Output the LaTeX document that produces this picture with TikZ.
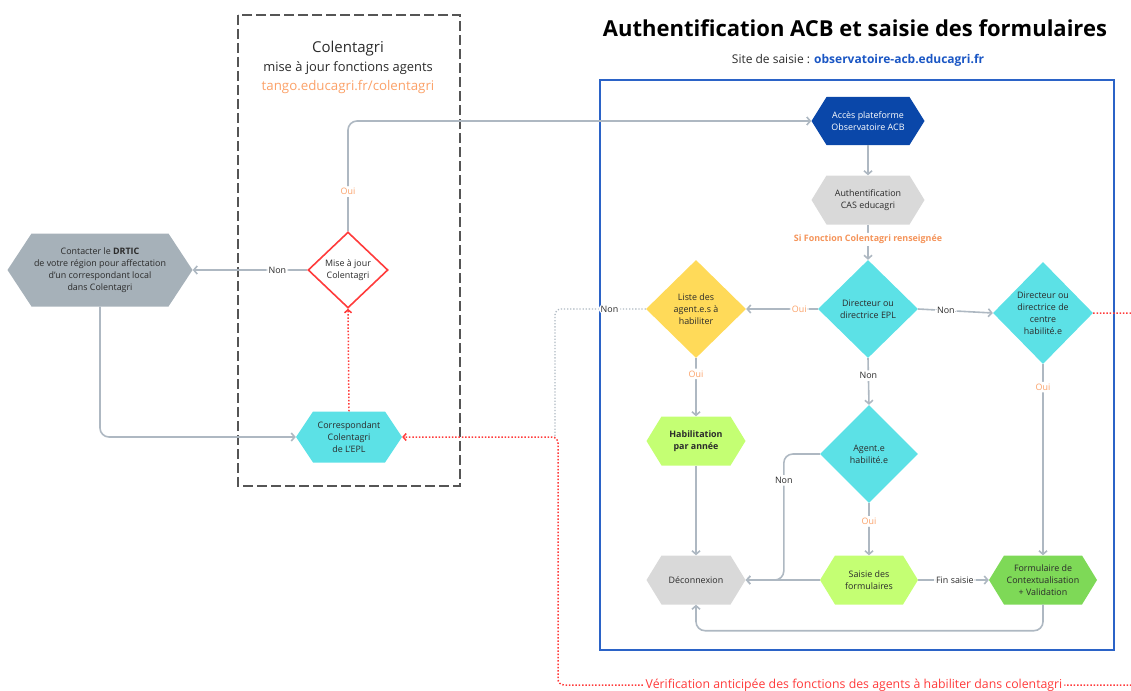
\documentclass[tikz,border=0pt]{standalone}
\usepackage{fontspec}
\setmainfont{Open Sans}
\usetikzlibrary{arrows.meta,shapes.geometric,calc}
\definecolor{lineg}{HTML}{AEB8C2}
\definecolor{orangec}{HTML}{FBA168}
\definecolor{orangeb}{HTML}{F5945A}
\definecolor{redc}{HTML}{FF3B3B}
\definecolor{darkblue}{HTML}{0A47A9}
\definecolor{boxblue}{HTML}{2B63C7}
\definecolor{cyanc}{HTML}{5CE1E6}
\definecolor{yellowc}{HTML}{FFDA59}
\definecolor{limec}{HTML}{C4FF73}
\definecolor{greenc}{HTML}{7ED957}
\definecolor{lgray}{HTML}{D9D9D9}
\definecolor{mgray}{HTML}{A6B1B9}
\definecolor{dashg}{HTML}{555555}
\definecolor{linkblue}{HTML}{1A56C4}
\definecolor{txtc}{HTML}{2B2B2B}
\begin{document}
\begin{tikzpicture}[x=1pt,y=-1pt,
  txt/.style={font=\fontsize{8.9}{12}\selectfont, align=center, text=txtc},
  hex/.style 2 args={shape=rectangle, inner sep=0pt, txt,
    path picture={\fill[#1] (path picture bounding box.west) -- ([xshift=#2pt]path picture bounding box.north west) -- ([xshift=-#2pt]path picture bounding box.north east) -- (path picture bounding box.east) -- ([xshift=-#2pt]path picture bounding box.south east) -- ([xshift=#2pt]path picture bounding box.south west) -- cycle;}},
  dia/.style={shape=diamond, inner sep=0pt, fill=#1, txt},
  conn/.style={draw=lineg, line width=1.6pt, rounded corners=9pt, -{Straight Barb[length=3.5pt,width=8pt]}},
  reddot/.style={draw=redc, line width=1.5pt, dash pattern=on 1.5pt off 1.8pt, rounded corners=6pt},
  graydot/.style={draw=lineg, line width=1.3pt, dash pattern=on 1.3pt off 1.8pt, rounded corners=6pt},
  lbl/.style={fill=white, inner sep=2pt, font=\fontsize{8.9}{10}\selectfont, text=txtc},
  oui/.style={lbl, text=orangec}]
\useasboundingbox (0,0) rectangle (1131,690);
\clip (0,0) rectangle (1131,690);

% frames
\draw[dashg, line width=2pt, dash pattern=on 10pt off 4pt] (238,15) rectangle (460,486);
\draw[boxblue, line width=2.2pt] (600,80) rectangle (1114,650);

% titles
\node[font=\fontsize{15}{17}\selectfont, text=txtc] (colt) at (348,49) {Colentagri};
\node[font=\fontsize{12.9}{14}\selectfont, text=txtc] (colst) at (348,68) {mise à jour fonctions agents};
\node[font=\fontsize{13.3}{15}\selectfont, text=orangec] (colurl) at (348,87) {tango.educagri.fr/colentagri};
\node[font=\bfseries\fontsize{22}{25}\selectfont, text=black] (title) at (855,28) {Authentification ACB et saisie des formulaires};
\node[font=\fontsize{12}{14}\selectfont, text=txtc] (site) at (858,60) {Site de saisie : \textcolor{linkblue}{\textbf{observatoire-acb.educagri.fr}}};

% nodes
\node[hex={darkblue}{15}, minimum width=113pt, minimum height=48pt, text=white] (acces) at (868,121) {Accès plateforme\\Observatoire ACB};
\node[hex={lgray}{15}, minimum width=113pt, minimum height=49pt] (auth) at (868,200) {Authentification\\CAS educagri};
\node[dia=cyanc, minimum width=100pt, minimum height=98pt] (dir) at (868,309) {Directeur ou\\directrice EPL};
\node[dia=yellowc, minimum width=100pt, minimum height=98pt] (liste) at (696,309) {Liste des\\agent.e.s à\\habiliter};
\node[dia=cyanc, minimum width=100pt, minimum height=102pt] (centre) at (1043,313) {Directeur ou\\directrice de\\centre\\habilité.e};
\node[dia=cyanc, minimum width=98pt, minimum height=98pt] (agent) at (869,454) {Agent.e\\habilité.e};
\node[hex={limec}{15}, minimum width=99pt, minimum height=49pt] (habil) at (696,441) {\textbf{Habilitation}\\\textbf{par année}};
\node[hex={lgray}{15}, minimum width=99pt, minimum height=49pt] (deco) at (696,580) {Déconnexion};
\node[hex={limec}{15}, minimum width=98pt, minimum height=49pt] (saisie) at (869,580) {Saisie des\\formulaires};
\node[hex={greenc}{15}, minimum width=108pt, minimum height=49pt] (form) at (1043,580) {Formulaire de\\Contextualisation\\+ Validation};
\node[hex={mgray}{24}, minimum width=185pt, minimum height=73pt] (contact) at (100,270) {Contacter le \textbf{DRTIC}\\de votre région pour affectation\\d'un correspondant local\\dans Colentagri};
\node[shape=diamond, draw=redc, line width=1.6pt, fill=white, inner sep=0pt, txt, minimum width=80pt, minimum height=76pt] (mise) at (348,270) {Mise à jour\\Colentagri};
\node[hex={cyanc}{17}, minimum width=106pt, minimum height=51pt] (corr) at (349,437) {Correspondant\\Colentagri\\de L'EPL};

% connectors
\draw[conn] (mise.north) -- node[oui, pos=0.36]{Oui} (mise.north |- acces.west) -- (acces.west);
\draw[conn] (mise.west) -- node[lbl, pos=0.26]{Non} (contact.east);
\draw[conn] (contact.south) |- (corr.west);
\draw[reddot, -{Straight Barb[length=3pt,width=7pt]}] (corr.north) -- (mise.south);
\draw[conn] (acces.south) -- (auth.north);
\draw[conn] (auth.south) -- node[pos=0.42, fill=white, inner sep=2pt, font=\bfseries\fontsize{8.9}{10}\selectfont, text=orangeb]{Si Fonction Colentagri renseignée} (dir.north);
\draw[conn] (dir.west) -- node[oui, pos=0.26]{Oui} (liste.east);
\draw[conn] (dir.east) -- node[lbl, pos=0.37]{Non} (centre.west);
\draw[conn] (dir.south) -- node[lbl, pos=0.375]{Non} (agent.north);
\draw[conn] (liste.south) -- node[oui, pos=0.27]{Oui} (habil.north);
\draw[conn] (habil.south) -- (deco.north);
\draw[conn] (agent.west) -- ([xshift=-36pt]agent.west) -- node[lbl, pos=0.21]{Non} ([xshift=-36pt]agent.west |- deco.east) -- (deco.east);
\draw[conn] (agent.south) -- node[oui, pos=0.35]{Oui} (saisie.north);
\draw[conn] (saisie.west) -- (deco.east);
\draw[conn] (saisie.east) -- node[lbl, pos=0.52]{Fin saisie} (form.west);
\draw[conn] (centre.south) -- node[oui, pos=0.12]{Oui} (form.north);
\draw[conn] (form.south) -- ++(0,26) -| (deco.south);

% dotted loops
\coordinate (j) at (555,437);
\draw[graydot] (liste.west) -- node[lbl, pos=0.4, fill=white]{Non} (liste.west -| j) -- (j);
\draw[reddot, -{Straight Barb[length=3pt,width=7pt]}] (centre.east) -- (1150,313) -- (1150,685) -- node[pos=0.5, fill=white, inner sep=2pt, font=\fontsize{12.3}{14}\selectfont, text=redc]{Vérification anticipée des fonctions des agents à habiliter dans colentagri} (558,685) -- (558,437) -- (corr.east);
\end{tikzpicture}
\end{document}
